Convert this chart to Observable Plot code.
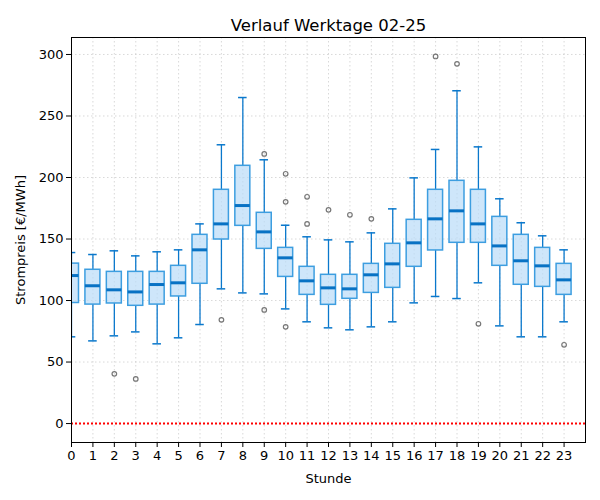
<!DOCTYPE html>
<html>
<head>
<meta charset="utf-8">
<script src="https://cdn.jsdelivr.net/npm/d3@7"></script>
<script src="https://cdn.jsdelivr.net/npm/@observablehq/plot@0.6"></script>
<style>
  body { margin: 0; background: #fff; }
  svg { font-family: "DejaVu Sans", sans-serif; }
</style>
</head>
<body>
<div id="chart"></div>
<script>
const hours   = [0,1,2,3,4,5,6,7,8,9,10,11,12,13,14,15,16,17,18,19,20,21,22,23];
const whiskLo = [70.5,67.2,71.3,74.5,64.8,69.7,80.5,109.5,106.2,105.4,93.2,82.7,77.8,76.2,78.6,82.7,98.1,103.3,101.6,114.4,79.4,70.5,70.5,82.7];
const q1      = [98,96.7,97.6,95.7,96.7,103.3,113.6,149.6,160.7,142,119.2,104.6,96.5,101.4,106.2,110.3,127.4,140.7,146.9,146.9,128.2,112.8,111.1,104.6];
const medians = [120.3,112,108.7,107,113,114.4,141.2,162.3,177.2,155.8,134.7,116,110.3,109.5,120.9,129.8,146.9,166.4,172.9,162.3,144.4,132.3,128.2,116.8];
const q3      = [130,125,123.3,123.3,123.3,128.2,153.4,190,209.5,171.3,142.8,127.4,120.9,120.9,129.8,146.1,165.6,190,197.3,190,168,153.4,142.8,129.8];
const whiskHi = [139,137.4,140.4,136.3,139.6,141.2,162.3,226.6,265,214.4,161.2,151.8,149.3,147.7,155,174.5,199.7,222.8,270.5,224.9,182.7,163.2,152.6,141.2];
const outlierHour  = [2,3,7,9,9,10,10,10,11,11,12,13,14,17,18,19,23];
const outlierValue = [40.4,36.3,84.3,219.2,92.4,203,180.2,78.6,184.3,162.3,173.7,169.7,166.4,298.4,292.4,81.1,64];
const yTicks = [0,50,100,150,200,250,300];

const boxes = hours.map((h, i) => ({h, lo: whiskLo[i], q1: q1[i], med: medians[i], q3: q3[i], hi: whiskHi[i]}));
const outliers = outlierHour.map((h, i) => ({h, v: outlierValue[i]}));

const bw = 0.35, cw = 0.2;

const chart = Plot.plot({
  width: 600,
  height: 500,
  marginLeft: 71,
  marginRight: 15,
  marginTop: 37,
  marginBottom: 58,
  style: {fontFamily: "DejaVu Sans, sans-serif", fontSize: "13px", color: "#000", background: "#fff"},
  x: {domain: [0, 24]},
  y: {domain: [-15.4, 313.8]},
  marks: [
    Plot.gridX(hours, {stroke: "#bbb", strokeOpacity: 0.7, strokeDasharray: "1.5,2.5", strokeWidth: 0.8}),
    Plot.gridY(yTicks, {stroke: "#bbb", strokeOpacity: 0.7, strokeDasharray: "1.5,2.5", strokeWidth: 0.8}),
    Plot.ruleY([0], {stroke: "#ff0000", strokeWidth: 2, strokeDasharray: "2,2", clip: "frame"}),
    Plot.ruleX(boxes, {x: "h", y1: "lo", y2: "q1", stroke: "#0a78cc", strokeWidth: 1.3, clip: "frame"}),
    Plot.ruleX(boxes, {x: "h", y1: "q3", y2: "hi", stroke: "#0a78cc", strokeWidth: 1.3, clip: "frame"}),
    Plot.ruleY(boxes, {y: "lo", x1: d => d.h - cw, x2: d => d.h + cw, stroke: "#0a78cc", strokeWidth: 1.5, clip: "frame"}),
    Plot.ruleY(boxes, {y: "hi", x1: d => d.h - cw, x2: d => d.h + cw, stroke: "#0a78cc", strokeWidth: 1.5, clip: "frame"}),
    Plot.rect(boxes, {x1: d => d.h - bw, x2: d => d.h + bw, y1: "q1", y2: "q3", fill: "#b9dcf8", fillOpacity: 0.7, stroke: "#3d9ee0", strokeWidth: 1.5, clip: "frame"}),
    Plot.ruleY(boxes, {y: "med", x1: d => d.h - bw, x2: d => d.h + bw, stroke: "#0872c4", strokeWidth: 3, clip: "frame"}),
    Plot.dot(outliers, {x: "h", y: "v", r: 2.3, stroke: "#777", strokeWidth: 1.2, fill: "none"}),
    Plot.frame({stroke: "#000", strokeWidth: 1}),
    Plot.axisX({ticks: hours, tickSize: 5, tickPadding: 3, tickFormat: d => String(d), fontSize: 13, label: "Stunde", labelAnchor: "center", labelArrow: "none", labelOffset: 40}),
    Plot.axisY({ticks: yTicks, tickSize: 5, tickPadding: 3, fontSize: 13, label: "Strompreis [€/MWh]", labelAnchor: "center", labelArrow: "none", labelOffset: 56}),
    Plot.text(["Verlauf Werktage 02-25"], {frameAnchor: "top", dy: -7, lineAnchor: "bottom", fontSize: 16.5, fill: "#000"})
  ]
});
document.getElementById("chart").appendChild(chart);
</script>
</body>
</html>
